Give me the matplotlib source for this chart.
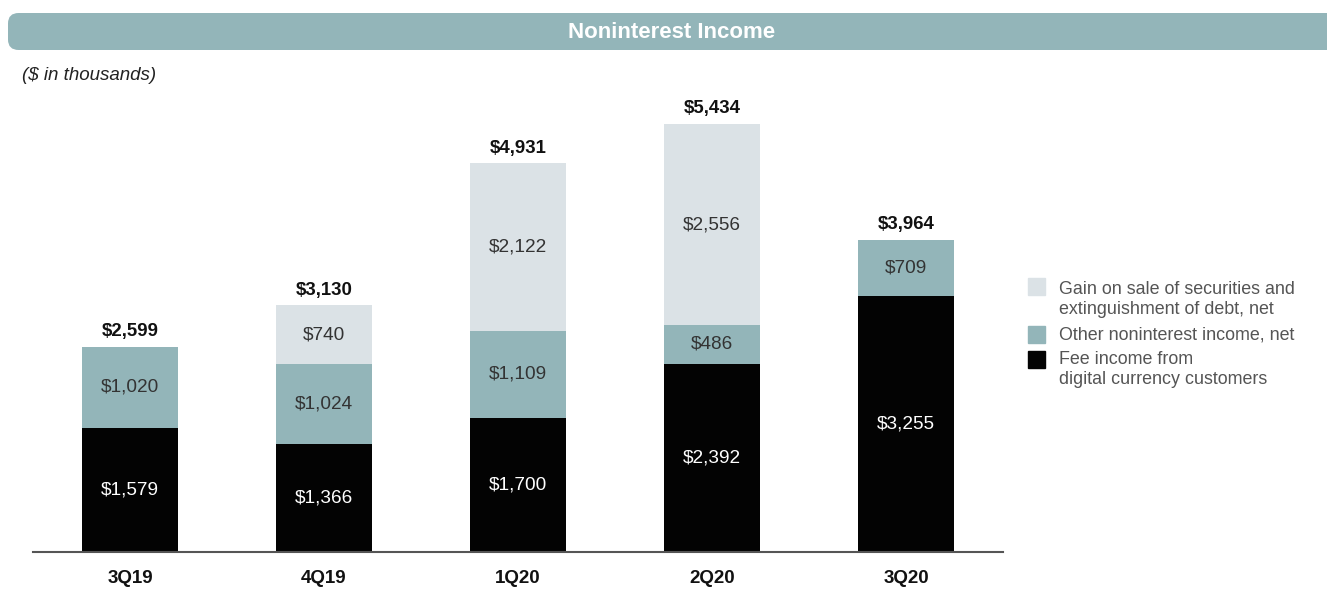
import matplotlib.pyplot as plt
from matplotlib.patches import FancyBboxPatch

plt.rcParams['font.family'] = ['Liberation Sans', 'DejaVu Sans']

quarters = ["3Q19", "4Q19", "1Q20", "2Q20", "3Q20"]
fee_income = [1579, 1366, 1700, 2392, 3255]
other_income = [1020, 1024, 1109, 486, 709]
gain_on_sale = [0, 740, 2122, 2556, 0]
totals = [2599, 3130, 4931, 5434, 3964]

series_names = ["Gain on sale of securities and\nextinguishment of debt, net",
                "Other noninterest income, net",
                "Fee income from\ndigital currency customers"]

c_black = "#030303"
c_teal = "#93b5b9"
c_light = "#dbe2e6"

fig = plt.figure(figsize=(13.27, 5.92), dpi=100)

# header banner
banner = FancyBboxPatch((8 / 1327, 1 - 50 / 592), 1.2, 37 / 592,
                        boxstyle="round,pad=0,rounding_size=0.008",
                        transform=fig.transFigure, facecolor=c_teal,
                        edgecolor="none", mutation_aspect=2.2)
fig.patches.append(banner)
fig.text(672 / 1327, 1 - 33 / 592, "Noninterest Income", color="white",
         fontsize=16, fontweight="bold", ha="center", va="center")
fig.text(22 / 1327, 1 - 75 / 592, "($ in thousands)", fontsize=13.5,
         style="italic", color="#222222", ha="left", va="center")

ax = fig.add_axes([33 / 1327, 40 / 592, 970 / 1327, 452 / 592])
x = range(len(quarters))
w = 0.49

ax.bar(x, fee_income, w, color=c_black)
ax.bar(x, other_income, w, bottom=fee_income, color=c_teal)
base2 = [a + b for a, b in zip(fee_income, other_income)]
ax.bar(x, gain_on_sale, w, bottom=base2, color=c_light)

for i in x:
    ax.text(i, fee_income[i] / 2, f"${fee_income[i]:,}", color="white",
            fontsize=13.7, ha="center", va="center")
    ax.text(i, fee_income[i] + other_income[i] / 2, f"${other_income[i]:,}",
            color="#333333", fontsize=13.7, ha="center", va="center")
    if gain_on_sale[i]:
        ax.text(i, base2[i] + gain_on_sale[i] / 2, f"${gain_on_sale[i]:,}",
                color="#333333", fontsize=13.7, ha="center", va="center")
    ax.text(i, totals[i] + 85, f"${totals[i]:,}", color="#111111",
            fontsize=13.4, fontweight="bold", ha="center", va="bottom")

ax.set_xlim(-0.5, 4.5)
ax.set_ylim(0, 5736)
for s in ["top", "right", "left"]:
    ax.spines[s].set_visible(False)
ax.spines["bottom"].set_color("#555555")
ax.spines["bottom"].set_linewidth(1.5)
ax.set_yticks([])
ax.set_xticks(list(x))
ax.set_xticklabels(quarters, fontsize=13.5, fontweight="bold", color="#111111")
ax.tick_params(axis="x", length=0, pad=13)

# legend drawn by hand
legend_rows = [(286, 292, c_light, series_names[0]),
               (334, 338, c_teal, series_names[1]),
               (359, 362, c_black, series_names[2])]
for sq_y, txt_y, col, label in legend_rows:
    fig.patches.append(plt.Rectangle((1028 / 1327, 1 - (sq_y + 8.5) / 592),
                                     17 / 1327, 17 / 592, color=col,
                                     transform=fig.transFigure))
    fig.text(1059 / 1327, 1 - (txt_y - 11.5) / 592, label, fontsize=12.9,
             color="#555555", ha="left", va="top", linespacing=1.28)

fig.savefig("out.png", dpi=100)
